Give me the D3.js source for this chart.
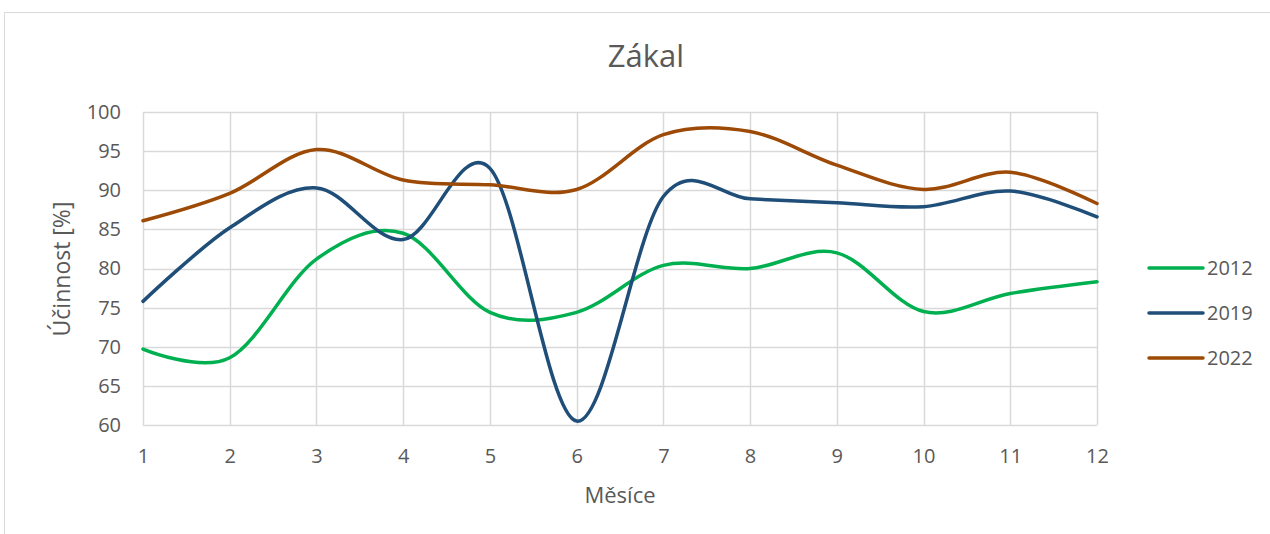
<!DOCTYPE html>
<html>
<head>
<meta charset="utf-8">
<script src="https://cdn.jsdelivr.net/npm/d3@7"></script>
<style>
  body { margin: 0; background: #fff; }
  svg { display: block; font-family: "Open Sans", "Noto Sans", sans-serif; }
</style>
</head>
<body>
<svg id="chart" width="1270" height="534"></svg>
<script>
// months on the x axis
const months = [1, 2, 3, 4, 5, 6, 7, 8, 9, 10, 11, 12];
// efficiency per year
const values2012 = [69.7, 68.6, 81.2, 84.5, 74.4, 74.4, 80.4, 80.0, 82.0, 74.5, 76.8, 78.3];
const values2019 = [75.8, 85.2, 90.3, 83.7, 92.8, 60.5, 89.2, 88.9, 88.4, 87.9, 89.9, 86.6];
const values2022 = [86.1, 89.6, 95.2, 91.3, 90.7, 90.1, 97.1, 97.5, 93.2, 90.1, 92.3, 88.3];
const yTicks = [60, 65, 70, 75, 80, 85, 90, 95, 100];
const seriesNames = ["2012", "2019", "2022"];
const seriesColors = ["#00b050", "#1f4e79", "#9c4a06"];

const series = [values2012, values2019, values2022].map((vals, i) => ({
    name: seriesNames[i],
    color: seriesColors[i],
    points: vals.map((v, j) => ({ m: months[j], v: v }))
}));

const svg = d3.select("#chart");

// outer chart frame (runs off the right and bottom edge)
svg.append("rect")
    .attr("x", 4.5).attr("y", 12.5)
    .attr("width", 1300).attr("height", 600)
    .attr("fill", "none").attr("stroke", "#d9d9d9");

const x = d3.scaleLinear().domain([1, 12]).range([143, 1097]);
const y = d3.scaleLinear().domain([60, 100]).range([425, 112]);

// grid
svg.append("g").selectAll("line.h").data(yTicks).join("line")
    .attr("x1", x(1)).attr("x2", x(12))
    .attr("y1", d => Math.round(y(d)) + 0.5).attr("y2", d => Math.round(y(d)) + 0.5)
    .attr("stroke", "#d9d9d9").attr("stroke-width", 1.5);
svg.append("g").selectAll("line.v").data(months).join("line")
    .attr("x1", d => Math.round(x(d)) + 0.5).attr("x2", d => Math.round(x(d)) + 0.5)
    .attr("y1", y(100)).attr("y2", y(60))
    .attr("stroke", "#d9d9d9").attr("stroke-width", 1.5);

// axes: labels only
const yAxis = svg.append("g")
    .attr("transform", `translate(${x(1)},0)`)
    .call(d3.axisLeft(y).tickValues(yTicks).tickSize(0).tickPadding(22));
const xAxis = svg.append("g")
    .attr("transform", `translate(0,${y(60)})`)
    .call(d3.axisBottom(x).tickValues(months).tickSize(0).tickPadding(24));
[yAxis, xAxis].forEach(a => {
    a.select(".domain").remove();
    a.selectAll("text")
        .attr("fill", "#595959")
        .style("font-size", "20px")
        .style("font-family", "'Open Sans', sans-serif");
});

// lines
const line = d3.line()
    .x(d => x(d.m))
    .y(d => y(d.v))
    .curve(d3.curveCardinal.tension(0));

svg.append("g").selectAll("path").data(series).join("path")
    .attr("d", d => line(d.points))
    .attr("fill", "none")
    .attr("stroke", d => d.color)
    .attr("stroke-width", 3.5)
    .attr("stroke-linecap", "round");

// titles
svg.append("text")
    .attr("x", 646).attr("y", 67)
    .attr("text-anchor", "middle")
    .attr("fill", "#595959")
    .style("font-size", "31px")
    .text("Zákal");

svg.append("text")
    .attr("transform", "translate(70,269) rotate(-90)")
    .attr("text-anchor", "middle")
    .attr("fill", "#595959")
    .style("font-size", "23px")
    .text("Účinnost [%]");

svg.append("text")
    .attr("x", 620).attr("y", 503)
    .attr("text-anchor", "middle")
    .attr("fill", "#595959")
    .style("font-size", "22px")
    .text("Měsíce");

// legend
const legend = svg.append("g").selectAll("g").data(series).join("g")
    .attr("transform", (d, i) => `translate(1149,${268 + i * 45})`);
legend.append("line")
    .attr("x1", 0).attr("x2", 54)
    .attr("stroke", d => d.color)
    .attr("stroke-width", 3.5)
    .attr("stroke-linecap", "round");
legend.append("text")
    .attr("x", 58).attr("dy", "0.35em")
    .attr("fill", "#595959")
    .style("font-size", "20px")
    .text(d => d.name);
</script>
</body>
</html>
